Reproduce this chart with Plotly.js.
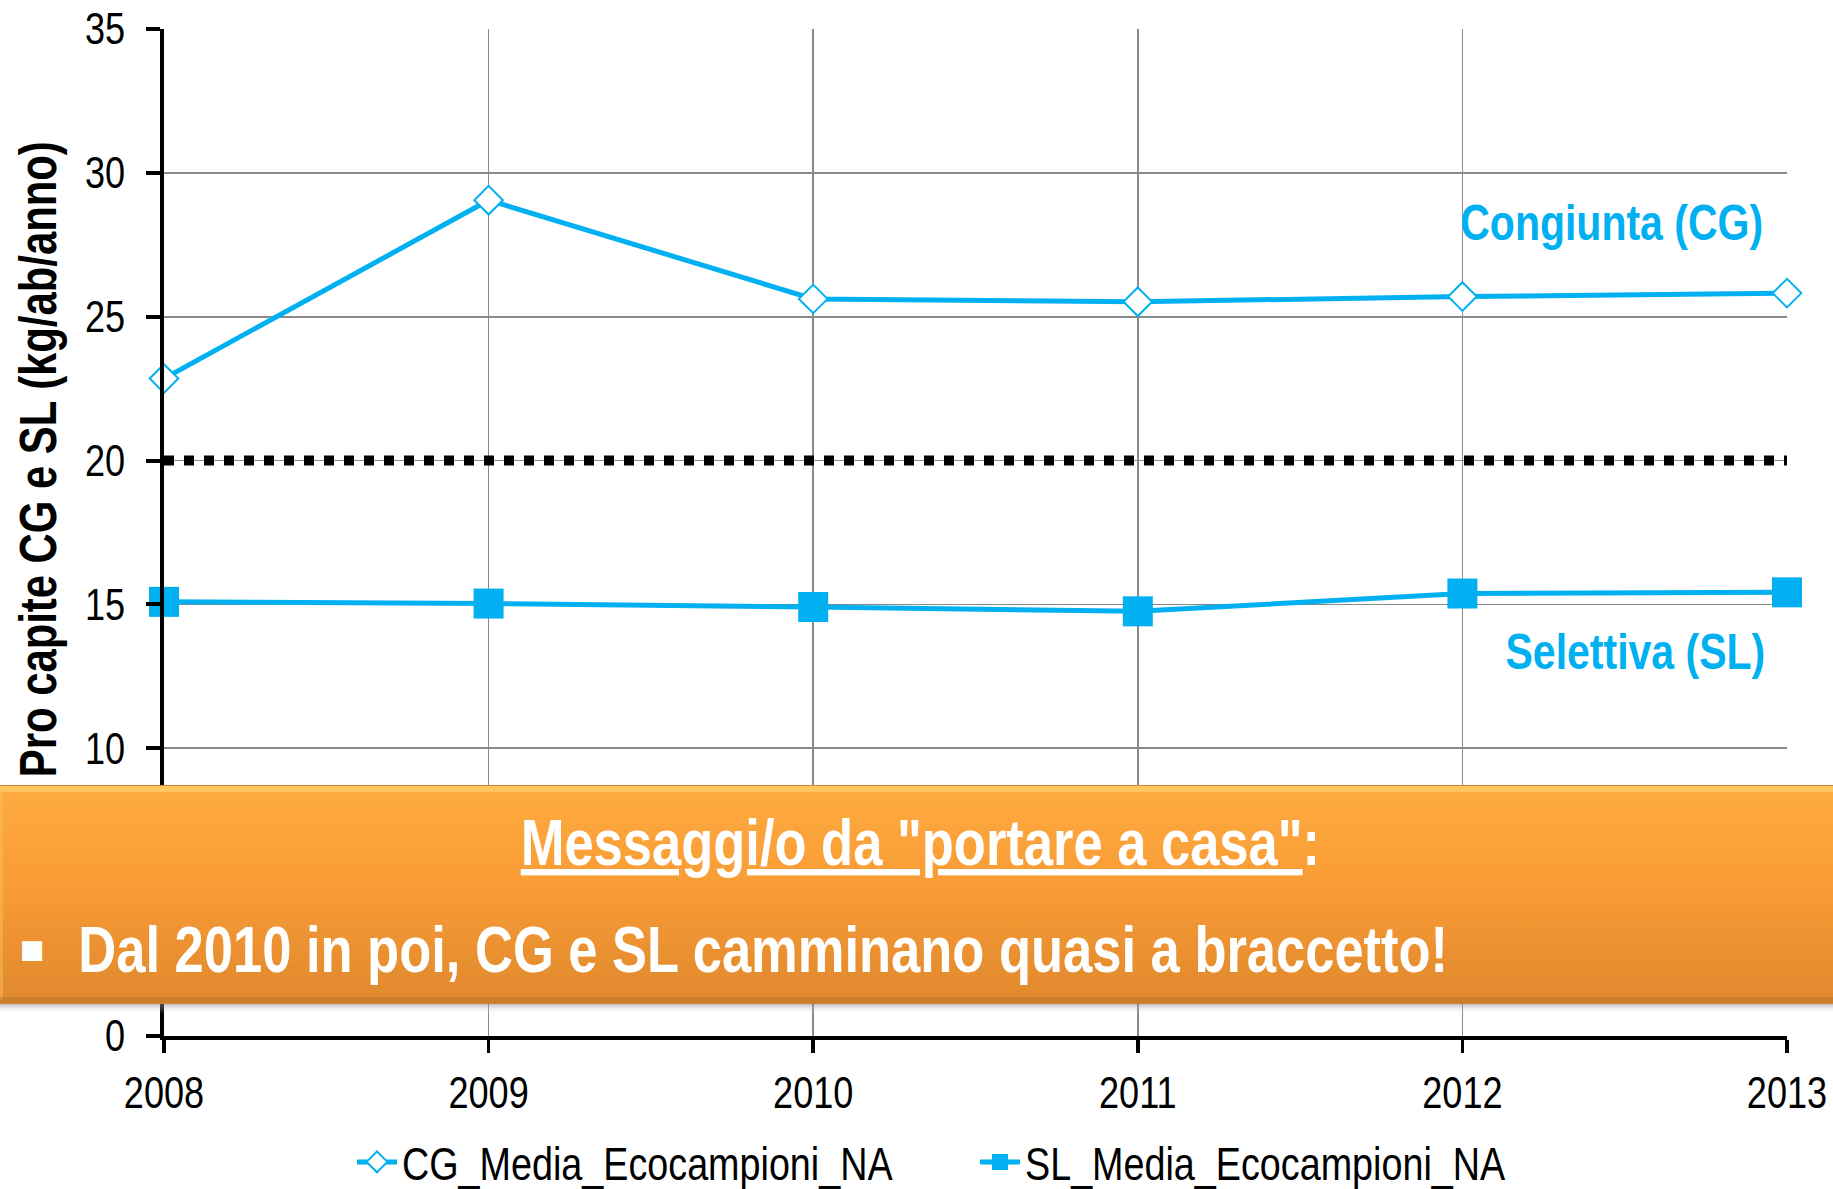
<!DOCTYPE html>
<html>
<head>
<meta charset="utf-8">
<script src="https://cdn.plot.ly/plotly-3.0.1.min.js"></script>
<style>html,body{margin:0;padding:0;background:#fff;}#chart{width:1833px;height:1189px;}</style>
</head>
<body>
<div id="chart"></div>
<script>
// ---- data ----
var years = [2008, 2009, 2010, 2011, 2012, 2013];
var cgValues = [22.85, 29.05, 25.62, 25.52, 25.70, 25.82];
var slValues = [15.09, 15.03, 14.91, 14.76, 15.38, 15.42];
var sogliaValues = [20, 20, 20, 20, 20, 20];
var yTicks = [0, 5, 10, 15, 20, 25, 30, 35];
var cgName = "CG_Media_Ecocampioni_NA";
var slName = "SL_Media_Ecocampioni_NA";
var yTitle = "Pro capite CG e SL (kg/ab/anno)";
var labelCG = "Congiunta (CG)";
var labelSL = "Selettiva (SL)";
var bannerTitle = '<u>Messaggi/o da "portare a casa"</u>:';
var bannerText = "Dal 2010 in poi, CG e SL camminano quasi a braccetto!";

// ---- layout geometry ----
var W = 1833, H = 1189;
var mL = 164, mR = 46, mT = 29, mB = 153;
var pw = W - mL - mR, ph = H - mT - mB;
function px(xp) { return (xp - mL) / pw; }
function py(yp) { return (H - mB - yp) / ph; }

var FONT = "'Liberation Sans', Arial, sans-serif";
var CONDENSE = 0.82;   // Arial Narrow look
var BLUE = "#00B0F0";

var bannerSvg =
  "<svg xmlns='http://www.w3.org/2000/svg' width='1842' height='230' viewBox='0 0 1842 230'>" +
  "<defs>" +
  "<linearGradient id='g' x1='0' y1='0' x2='0' y2='1'>" +
  "<stop offset='0' stop-color='#FEAB40'/>" +
  "<stop offset='0.45' stop-color='#F99C36'/>" +
  "<stop offset='1' stop-color='#DF882D'/>" +
  "</linearGradient>" +
  "<linearGradient id='s' x1='0' y1='0' x2='0' y2='1'>" +
  "<stop offset='0' stop-color='#777' stop-opacity='0.55'/>" +
  "<stop offset='1' stop-color='#fff' stop-opacity='0'/>" +
  "</linearGradient>" +
  "</defs>" +
  "<rect x='0' y='218' width='1842' height='11' fill='url(#s)'/>" +
  "<rect x='0.5' y='0.5' width='1841' height='218' rx='4' fill='url(#g)' stroke='#D08636' stroke-width='1'/>" +
  "<rect x='3' y='1' width='1836' height='6' fill='#FFD068' opacity='0.75'/>" +
  "<rect x='1' y='3' width='6' height='212' fill='#FFC060' opacity='0.45'/>" +
  "<rect x='1' y='212' width='1840' height='6' fill='#BE7428' opacity='0.55'/>" +
  "</svg>";

var traces = [
  {
    x: years, y: sogliaValues, type: "scatter", mode: "lines",
    line: { color: "#000000", width: 10, dash: "10px,10px" },
    showlegend: false, hoverinfo: "skip", cliponaxis: false
  },
  {
    x: years, y: cgValues, type: "scatter", mode: "lines+markers", name: cgName,
    line: { color: BLUE, width: 5 },
    marker: { symbol: "diamond", size: 22, color: "#FFFFFF", line: { color: BLUE, width: 2 } },
    cliponaxis: false
  },
  {
    x: years, y: slValues, type: "scatter", mode: "lines+markers", name: slName,
    line: { color: BLUE, width: 5 },
    marker: { symbol: "square", size: 30, color: BLUE, line: { width: 0 } },
    cliponaxis: false
  }
];

function ann(text, cx, cy, size, color, extra) {
  var a = {
    text: text, showarrow: false, xref: "paper", yref: "paper",
    x: px(cx), y: py(cy), xanchor: "center", yanchor: "middle",
    font: { family: FONT, size: size, color: color, weight: "bold" }
  };
  if (extra) { for (var k in extra) { if (k === "font") { for (var f in extra.font) a.font[f] = extra.font[f]; } else a[k] = extra[k]; } }
  return a;
}

var layout = {
  width: W, height: H,
  margin: { l: mL, r: mR, t: mT, b: mB, pad: 0, autoexpand: false },
  paper_bgcolor: "#FFFFFF", plot_bgcolor: "#FFFFFF",
  font: { family: FONT, color: "#000000", size: 44 },
  showlegend: true,
  hovermode: false,
  xaxis: {
    type: "linear", range: [2008, 2013], tickvals: years, ticktext: years.map(String),
    showgrid: true, gridcolor: "#8A8A8A", gridwidth: 1.6,
    showline: true, linecolor: "#000000", linewidth: 4,
    ticks: "outside", ticklen: 13, tickwidth: 3.5, tickcolor: "#000000",
    tickfont: { family: FONT, size: 44, color: "#000000" },
    ticklabelstandoff: 2, ticklabeloverflow: "allow",
    zeroline: false, fixedrange: true, automargin: false
  },
  yaxis: {
    range: [0, 35], tickvals: yTicks, ticktext: yTicks.map(String),
    showgrid: true, gridcolor: "#8A8A8A", gridwidth: 1.6,
    showline: true, linecolor: "#000000", linewidth: 4,
    ticks: "outside", ticklen: 14, tickwidth: 4, tickcolor: "#000000",
    tickfont: { family: FONT, size: 44, color: "#000000" },
    ticklabelstandoff: 12, ticklabeloverflow: "allow",
    zeroline: false, fixedrange: true, automargin: false
  },
  legend: {
    orientation: "h", x: px(352), y: py(1162), xanchor: "left", yanchor: "middle",
    font: { family: FONT, size: 46, color: "#000000" },
    bgcolor: "rgba(0,0,0,0)", itemwidth: 40, traceorder: "normal",
    itemsizing: "trace", entrywidth: 568, entrywidthmode: "pixels"
  },
  images: [
    {
      source: "data:image/svg+xml;charset=utf-8," + encodeURIComponent(bannerSvg),
      xref: "paper", yref: "paper",
      x: px(-4), y: py(785), sizex: 1842 / pw, sizey: 230 / ph,
      xanchor: "left", yanchor: "top", sizing: "stretch", layer: "above"
    }
  ],
  annotations: [
    ann(yTitle, 38, 459, 51, "#000000", { textangle: -90 }),
    ann(labelCG, 1611, 223, 50, BLUE),
    ann(labelSL, 1635, 652, 50, BLUE),
    ann(bannerTitle, 920, 843, 64, "#FFFFFF"),
    ann(bannerText, 762.5, 950, 64, "#FFFFFF"),
    ann("\u25A0", 32, 949, 26, "#FFFFFF", { font: { family: "DejaVu Sans, sans-serif", weight: "normal" } })
  ]
};

function condenseTexts() {
  var texts = document.querySelectorAll("#chart svg text");
  for (var i = 0; i < texts.length; i++) {
    var t = texts[i];
    if (t.textContent === "\u25A0") continue;
    var w = t.getComputedTextLength();
    if (w > 0) {
      t.setAttribute("textLength", (w * CONDENSE).toFixed(2));
      t.setAttribute("lengthAdjust", "spacingAndGlyphs");
    }
  }
}

Plotly.newPlot("chart", traces, layout, { displayModeBar: false, staticPlot: true }).then(condenseTexts);
</script>
</body>
</html>
